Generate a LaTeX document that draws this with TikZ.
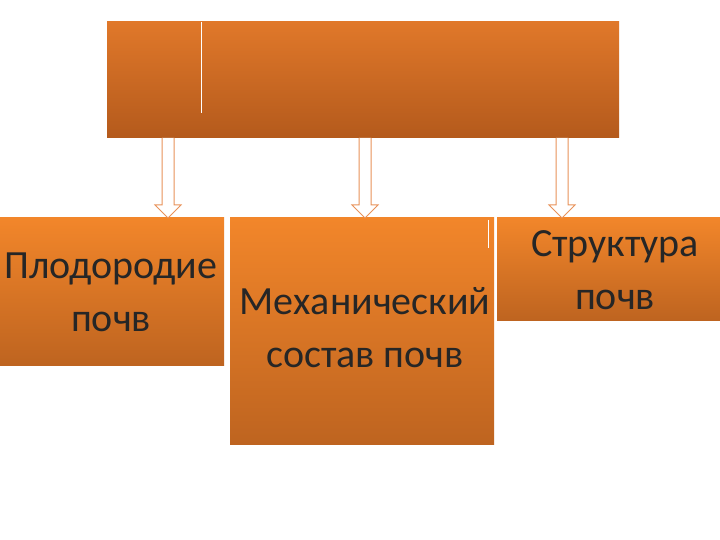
\documentclass[tikz,border=0pt]{standalone}
\usepackage{fontspec}
\setmainfont{Carlito}
\definecolor{otop}{HTML}{E0782A}
\definecolor{obot}{HTML}{B45A1C}
\definecolor{ltop}{HTML}{F2862A}
\definecolor{lbot}{HTML}{BE6420}
\definecolor{aline}{HTML}{E8925A}
\tikzset{
  topbox/.style={draw=none,top color=otop,bottom color=obot},
  lowbox/.style={draw=none,top color=ltop,bottom color=lbot},
  lbl/.style={font=\fontsize{40}{53}\selectfont,text=black!85,align=center},
  hollow/.style={draw=aline,line width=1pt,fill=white}
}
\begin{document}
\begin{tikzpicture}[x=1pt,y=-1pt]
\useasboundingbox[fill=white] (0,0) rectangle (720,540);
\fill[topbox] (107,22) rectangle (619,138);
\draw[white,line width=1pt] (201,22) -- (201,113);
\fill[lowbox] (0,218) rectangle (224,365);
\fill[lowbox] (230,218) rectangle (494,444);
\fill[lowbox] (497,218) rectangle (720,320);
\draw[white,line width=1pt] (488,220) -- (488,248);
\foreach \cx/\nm in {168/a,365/b,562/c}{
  \draw[hollow] (\cx-6,138) -- (\cx-6,205) -- (\cx-13,205) -- (\cx,218) -- (\cx+13,205) -- (\cx+6,205) -- (\cx+6,138);
}
\node[lbl] (n1) at (111,292) {Плодородие\\почв};
\node[lbl] (n2) at (365,328) {Механический\\состав почв};
\node[lbl] (n3) at (615,270) {Структура\\почв};
\end{tikzpicture}
\end{document}
